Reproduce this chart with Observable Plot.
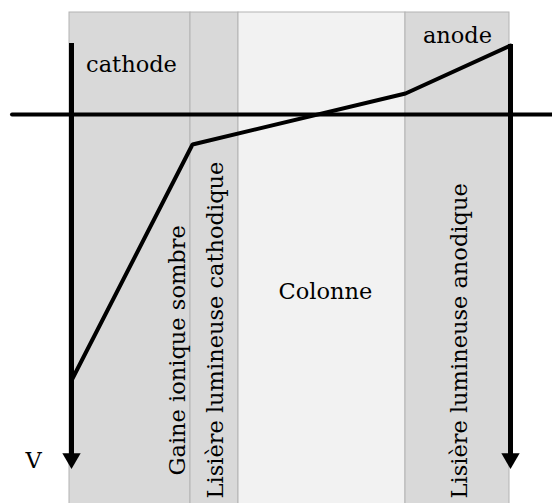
<!DOCTYPE html>
<html>
<head>
<meta charset="utf-8">
<script src="https://cdn.jsdelivr.net/npm/d3@7"></script>
<script src="https://cdn.jsdelivr.net/npm/@observablehq/plot@0.6"></script>
<style>
  html, body { margin: 0; padding: 0; background: #fff; }
  #chart svg { display: block; }
</style>
</head>
<body>
<div id="chart"></div>
<script>
// Regions of the discharge (position along the tube, arbitrary units = px of the reference)
const regionNames  = ["cathode", "Gaine ionique sombre", "Lisière lumineuse cathodique", "Colonne", "Lisière lumineuse anodique"];
const regionStart  = [69, 69, 190, 238, 405];
const regionEnd    = [190, 190, 238, 405, 509];
const regionFill   = ["#d9d9d9", "#d9d9d9", "#d9d9d9", "#f2f2f2", "#d9d9d9"];

// Potential profile V(x) (V = 0 on the horizontal axis, up is positive)
const curveX = [71, 192, 405, 510];
const curveV = [-266, -30, 21, 69];

// Electrodes (vertical arrows)
const electrodeX    = [71, 510];
const electrodeTopV = [71, 70];
const electrodeEndV = [-341, -341];
const arrowTipV     = -344;

// Axis extent
const axisX1 = 12, axisX2 = 552;
const frameTopV = 102, frameBottomV = -389;

// Horizontal labels
const hLabels = ["cathode", "anode", "Colonne", "V"];
const hLabelX = [131, 457, 325, 33];
const hLabelV = [50, 79, -177, -346];

// Vertical labels (read bottom to top)
const vLabels = ["Gaine ionique sombre", "Lisière lumineuse cathodique", "Lisière lumineuse anodique"];
const vLabelX = [177, 215, 459];
const vLabelV = [-361, -384, -384];

const regions = regionStart.map((s, i) => ({x1: regionStart[i], x2: regionEnd[i], fill: regionFill[i]}))
  .filter((d, i) => i !== 1);
const curve = curveX.map((x, i) => ({x, v: curveV[i]}));
const electrodes = electrodeX.map((x, i) => ({x, y1: electrodeTopV[i], y2: electrodeEndV[i]}));
const tips = electrodeX.map(x => ({x, v: arrowTipV}));
const hl = hLabels.map((t, i) => ({t, x: hLabelX[i], v: hLabelV[i]}));
const vl = vLabels.map((t, i) => ({t, x: vLabelX[i], v: vLabelV[i]}));

const font = "DejaVu Serif";
const fs = 22.5;

const chart = Plot.plot({
  width: 552,
  height: 503,
  margin: 0,
  style: {background: "#fff"},
  x: {domain: [0, 552], axis: null},
  y: {domain: [-389, 114], axis: null},
  marks: [
    Plot.rect(regions, {x1: "x1", x2: "x2", y1: frameBottomV - 5, y2: frameTopV, fill: "fill", stroke: "#b3b3b3", strokeWidth: 1}),
    Plot.ruleY([0], {x1: axisX1, x2: axisX2, stroke: "#000", strokeWidth: 4, strokeLinecap: "round"}),
    Plot.ruleX(electrodes, {x: "x", y1: "y1", y2: "y2", stroke: "#000", strokeWidth: 5}),
    Plot.dot(tips, {x: "x", y: "v", symbol: "triangle", rotate: 180, r: 6.8, fill: "#000", stroke: "none"}),
    Plot.line(curve, {x: "x", y: "v", stroke: "#000", strokeWidth: 4, strokeLinejoin: "miter"}),
    Plot.text(hl, {x: "x", y: "v", text: "t", fontFamily: font, fontSize: fs, fill: "#000", textAnchor: "middle"}),
    Plot.text(vl, {x: "x", y: "v", text: "t", fontFamily: font, fontSize: fs, fill: "#000", textAnchor: "start", rotate: -90})
  ]
});
document.getElementById("chart").append(chart);
</script>
</body>
</html>
